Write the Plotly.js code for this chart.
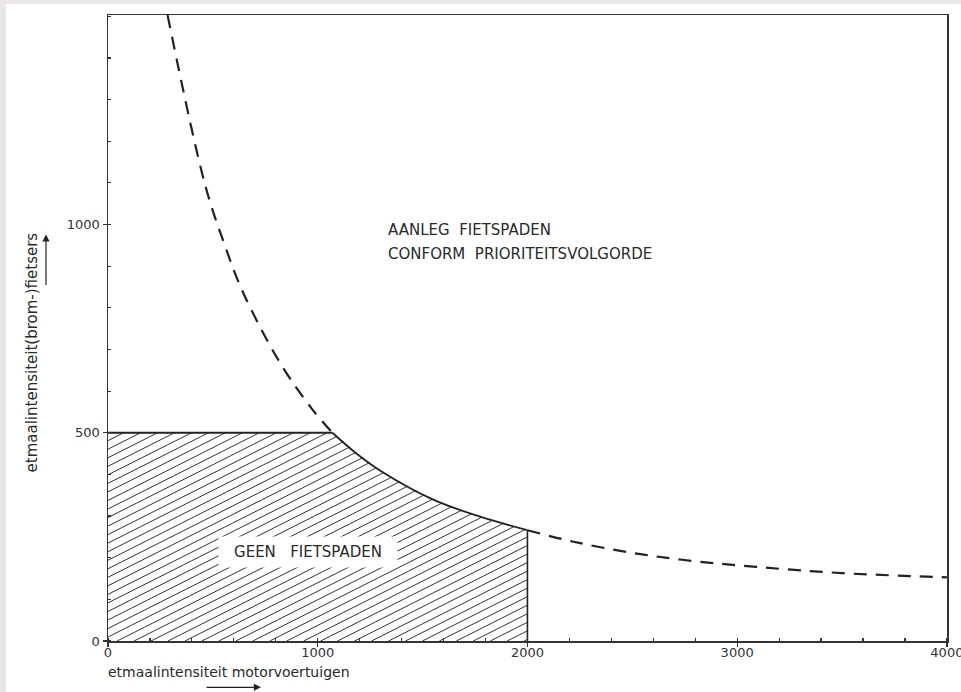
<!DOCTYPE html>
<html><head><meta charset="utf-8">
<script src="https://cdn.plot.ly/plotly-3.0.1.min.js"></script>
<style>
html,body{margin:0;padding:0;background:#ece7e7;overflow:hidden;width:961px;height:692px;}
#chart{position:absolute;left:6px;top:4px;width:955px;height:688px;background:#fff;}
</style></head><body><div id="chart"></div>
<script>
// boundary curve (x: motor vehicles/day, y: cyclists/day)
const curveX = [284, 462, 557, 643, 819, 976, 1070, 1180, 1295, 1548, 1771, 2000, 2214, 2471, 2738, 3090, 3500, 4000];
const curveY = [1503, 1097, 950, 838, 669, 555, 500, 452, 410, 340, 299, 266, 239, 214, 195, 178, 163, 153];
const limitY = 500;      // horizontal limit of the hatched area
const limitXEnd = 1070;  // where the horizontal limit meets the curve
const boundX = 2000;     // vertical limit of the hatched area
const xTickVals = [0, 1000, 2000, 3000, 4000];
const yTickVals = [0, 500, 1000];
const labelTop = ["AANLEG\u00A0 FIETSPADEN", "CONFORM\u00A0 PRIORITEITSVOLGORDE"];
const labelHatch = "GEEN\u00A0\u00A0 FIETSPADEN";
const xTitle = "etmaalintensiteit motorvoertuigen";
const yTitle = "etmaalintensiteit(brom-)fietsers";

const iStart = curveX.indexOf(limitXEnd);
const iEnd = curveX.indexOf(boundX);

function interp(x) {
  for (let i = 0; i < curveX.length - 1; i++) {
    if (x >= curveX[i] && x <= curveX[i + 1]) {
      const t = (x - curveX[i]) / (curveX[i + 1] - curveX[i]);
      return curveY[i] + t * (curveY[i + 1] - curveY[i]);
    }
  }
  return curveY[curveY.length - 1];
}
function topAt(x) { return x <= limitXEnd ? limitY : interp(x); }

// hatch lines (style only): slope and spacing in data units
const hs = 0.2535, hstep = 20.5;
const hx = [], hy = [];
for (let k = -hs * boundX + 4; k < limitY; k += hstep) {
  let x0 = Math.max(0, -k / hs);
  if (x0 >= boundX) continue;
  const f = x => topAt(x) - (hs * x + k);
  if (f(x0) < 0) continue;
  let x1;
  if (f(boundX) >= 0) x1 = boundX;
  else {
    let a = x0, b = boundX;
    for (let it = 0; it < 40; it++) { const m = (a + b) / 2; if (f(m) >= 0) a = m; else b = m; }
    x1 = a;
  }
  hx.push(x0, x1, null);
  hy.push(hs * x0 + k, hs * x1 + k, null);
}

const ink = '#222';
const traces = [
  {x: hx, y: hy, mode: 'lines', line: {color: '#333', width: 1}, hoverinfo: 'skip', connectgaps: false},
  {x: [0, limitXEnd], y: [limitY, limitY], mode: 'lines', line: {color: ink, width: 1.8}},
  {x: [boundX, boundX], y: [curveY[iEnd], 0], mode: 'lines', line: {color: ink, width: 1.6}},
  {x: curveX.slice(iStart, iEnd + 1), y: curveY.slice(iStart, iEnd + 1), mode: 'lines',
   line: {color: ink, width: 1.8, shape: 'spline', smoothing: 1}},
  {x: curveX.slice(0, iStart + 1), y: curveY.slice(0, iStart + 1), mode: 'lines',
   line: {color: ink, width: 2.2, shape: 'spline', smoothing: 1, dash: '13px,9px'}},
  {x: curveX.slice(iEnd), y: curveY.slice(iEnd), mode: 'lines',
   line: {color: ink, width: 2.2, shape: 'spline', smoothing: 1, dash: '13px,9px'}}
];

const fam = 'DejaVu Sans, sans-serif';
const tf = {family: fam, size: 13, color: '#333'};
const axBase = {
  showline: true, linecolor: '#333', linewidth: 1.5, mirror: true,
  ticks: 'outside', ticklen: 4, tickcolor: '#333', tickwidth: 1.2,
  showgrid: false, zeroline: false, tickfont: tf, fixedrange: true,
  tickmode: 'array', ticklabeloverflow: 'allow'
};
const layout = {
  width: 955, height: 688,
  margin: {l: 102, r: 14, t: 11, b: 51},
  paper_bgcolor: '#fff', plot_bgcolor: '#fff',
  showlegend: false,
  xaxis: Object.assign({}, axBase, {range: [0, 4000.5], tickvals: xTickVals, ticktext: xTickVals.map(String),
    ticklabelstandoff: -5,
    minor: {tick0: 0, dtick: 200, ticks: 'inside', ticklen: 3, tickcolor: '#333', showgrid: false}}),
  yaxis: Object.assign({}, axBase, {range: [0, 1503], tickvals: yTickVals, ticktext: yTickVals.map(String),
    minor: {tick0: 0, dtick: 100, ticks: 'inside', ticklen: 3, tickcolor: '#333', showgrid: false}}),
  annotations: [
    {x: 1335, y: 988, xref: 'x', yref: 'y', text: labelTop[0], showarrow: false, xanchor: 'left', yanchor: 'middle',
     xshift: -2, font: {family: fam, size: 15, color: '#2a2a2a'}},
    {x: 1335, y: 930, xref: 'x', yref: 'y', text: labelTop[1], showarrow: false, xanchor: 'left', yanchor: 'middle',
     xshift: -2, font: {family: fam, size: 15, color: '#2a2a2a'}},
    {x: 953, y: 214, xref: 'x', yref: 'y', text: labelHatch, showarrow: false, xanchor: 'center', yanchor: 'middle',
     bgcolor: '#fff', borderpad: 7, width: 164, height: 16,
     font: {family: fam, size: 15, color: '#2a2a2a'}},
    {x: 0, y: -0.0498, xref: 'paper', yref: 'paper', text: xTitle, showarrow: false, xanchor: 'left', yanchor: 'middle',
     xshift: -2, font: {family: fam, size: 14, color: '#2a2a2a'}},
    {x: -0.0906, y: 0.461, xref: 'paper', yref: 'paper', text: yTitle, showarrow: false, textangle: -90,
     xanchor: 'center', yanchor: 'middle',
     font: {family: fam, size: 15, color: '#2a2a2a'}},
    {x: 0.1824, y: -0.074, xref: 'paper', yref: 'paper', text: '', showarrow: true, ax: -56, ay: 0,
     arrowhead: 2, arrowsize: 1.2, arrowwidth: 1.2, arrowcolor: '#222'},
    {x: -0.0739, y: 0.6495, xref: 'paper', yref: 'paper', text: '', showarrow: true, ax: 0, ay: 52,
     arrowhead: 2, arrowsize: 1.2, arrowwidth: 1.2, arrowcolor: '#222'}
  ]
};
Plotly.newPlot('chart', traces, layout, {displayModeBar: false, staticPlot: true});
</script></body></html>
